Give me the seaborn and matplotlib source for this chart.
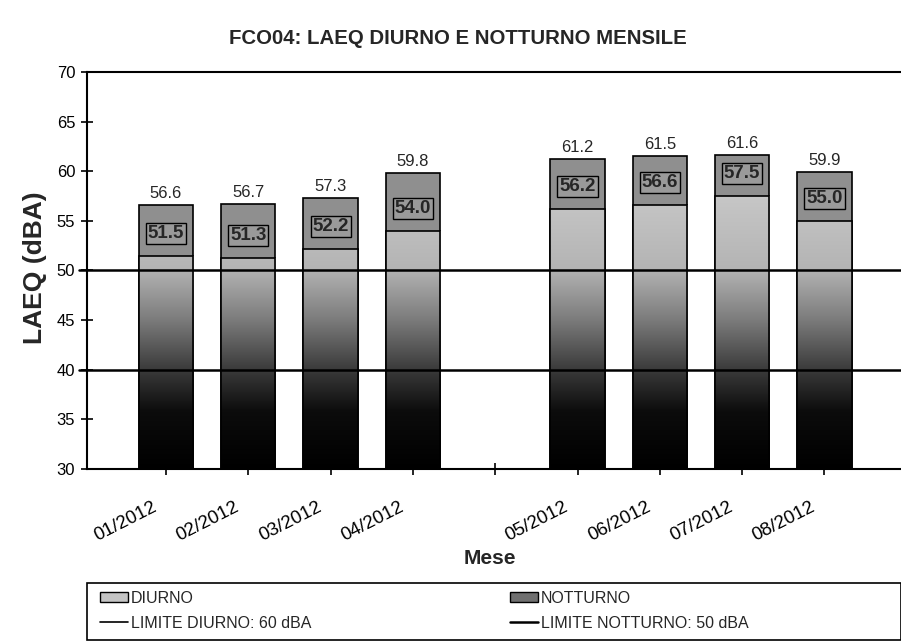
import numpy as np
import matplotlib
matplotlib.use("Agg")
import matplotlib.pyplot as plt
import matplotlib.transforms as mtransforms
import seaborn as sns
from matplotlib.colors import LinearSegmentedColormap
from matplotlib.patches import Patch, Rectangle
from matplotlib.lines import Line2D

# ---- data ----
mesi = ["01/2012", "02/2012", "03/2012", "04/2012",
        "05/2012", "06/2012", "07/2012", "08/2012"]
diurno = [56.6, 56.7, 57.3, 59.8, 61.2, 61.5, 61.6, 59.9]
notturno = [51.5, 51.3, 52.2, 54.0, 56.2, 56.6, 57.5, 55.0]
ordine = mesi[:4] + [" "] + mesi[4:]
limite_diurno_linea = 50
limite_notturno_linea = 40
yticks = [30, 35, 40, 45, 50, 55, 60, 65, 70]

sns.set_theme(style="white")
plt.rcParams['font.family'] = ['Liberation Sans', 'DejaVu Sans']

fig = plt.figure(figsize=(9.01, 6.42), dpi=100)
ax = fig.add_axes([87/901, 1-469/642, (901-87)/901, (469-72)/642])

sns.barplot(x=mesi, y=diurno, order=ordine, color="#8f8f8f", width=0.66,
            edgecolor="black", linewidth=1.2, saturation=1, ax=ax, zorder=2)
sns.barplot(x=mesi, y=notturno, order=ordine, color="#bbbbbb", width=0.66,
            edgecolor="black", linewidth=1.2, saturation=1, ax=ax, zorder=3)

cont_d = ax.containers[0]
cont_n = ax.containers[1]

# gradient fill on NOTTURNO bars
cmap = LinearSegmentedColormap.from_list(
    "g", [(0.0, "#000000"), (0.18, "#0c0c0c"), (0.31, "#3a3a3a"),
          (0.47, "#7c7c7c"), (0.63, "#b4b4b4"), (1.0, "#d2d2d2")])
grad = np.linspace(1, 0, 256).reshape(-1, 1)
for p in cont_n.patches:
    h = p.get_height()
    if not np.isfinite(h) or h <= 0:
        continue
    x0 = p.get_x()
    im = ax.imshow(grad, extent=[x0, x0 + p.get_width(), 30, 62], aspect="auto",
                   cmap=cmap, vmin=0, vmax=1, zorder=3.5, interpolation="bilinear")
    im.set_clip_path(p)
    p.set_facecolor("none")
    p.set_zorder(4)

ax.axhline(limite_diurno_linea, color="black", lw=1.8, zorder=5, xmin=-0.01, clip_on=False)
ax.axhline(limite_notturno_linea, color="black", lw=1.8, zorder=5, xmin=-0.01, clip_on=False)

ax.bar_label(cont_d, fmt="%.1f", padding=3, fontsize=12, zorder=6)
ax.bar_label(cont_n, fmt="%.1f", padding=10, fontsize=13.5, fontweight="bold",
             bbox=dict(boxstyle="square,pad=0.1", facecolor="#9a9a9a",
                       edgecolor="black", linewidth=1), zorder=6)

ax.set_ylim(30, 70)
ax.set_xlim(-0.96, 8.93)
ax.set_yticks(yticks)
ax.tick_params(axis="y", direction="inout", length=9, width=1.2, labelsize=12,
               left=True, pad=4, colors="black")
ax.tick_params(axis="x", direction="inout", length=8, width=1.2, labelsize=13.5,
               bottom=True, pad=17, colors="black")
offset = mtransforms.ScaledTranslation(-14/100, 0, fig.dpi_scale_trans)
for lab in ax.get_xticklabels():
    lab.set_rotation(27)
    lab.set_ha("right")
    lab.set_rotation_mode("anchor")
    lab.set_transform(lab.get_transform() + offset)

for s in ["left", "bottom", "top"]:
    ax.spines[s].set_visible(True)
    ax.spines[s].set_color("black")
    ax.spines[s].set_linewidth(1.5)
ax.spines["right"].set_visible(False)

ax.set_xlabel("Mese", fontsize=15, fontweight="bold")
ax.xaxis.set_label_coords((490-87)/814, (469-549)/397)
ax.set_ylabel("LAEQ (dBA)", fontsize=19, fontweight="bold")
ax.yaxis.set_label_coords((47-87)/814, (469-268)/397)
fig.text(458/901, 1-38/642, "FCO04: LAEQ DIURNO E NOTTURNO MENSILE",
         ha="center", va="center", fontsize=14.7, fontweight="bold")

handles = [Patch(facecolor="#c4c4c4", edgecolor="black", label="DIURNO"),
           Line2D([0], [0], color="black", lw=1.2, label="LIMITE DIURNO: 60 dBA"),
           Patch(facecolor="#707070", edgecolor="black", label="NOTTURNO"),
           Line2D([0], [0], color="black", lw=1.8, label="LIMITE NOTTURNO: 50 dBA")]
leg = fig.legend(handles=handles, ncol=2, loc="upper left",
                 bbox_to_anchor=(100/901, 1-591/642),
                 fontsize=11.5, frameon=False, handlelength=1.75, handleheight=0.6,
                 handletextpad=0.2, borderaxespad=0, labelspacing=0.6,
                 borderpad=0, columnspacing=12.4)
fig.add_artist(Rectangle((87/901, 2/642), (901-87)/901, 57/642,
                         transform=fig.transFigure, fill=False,
                         edgecolor="black", linewidth=1.2))

fig.savefig("out.png", dpi=100, facecolor="white")
